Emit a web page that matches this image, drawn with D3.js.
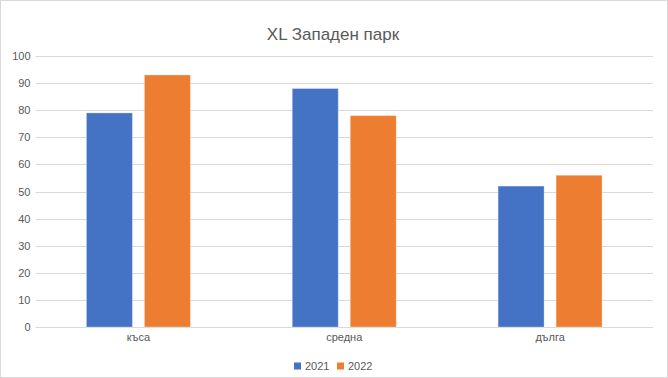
<!DOCTYPE html>
<html>
<head>
<meta charset="utf-8">
<script src="https://cdn.jsdelivr.net/npm/d3@7/dist/d3.min.js"></script>
<style>
    body { margin: 0; background: #fff; }
    svg text { font-family: "Liberation Sans", "DejaVu Sans", sans-serif; fill: #595959; }
</style>
</head>
<body>
<div id="chart"></div>
<script>
var categories = ["къса", "средна", "дълга"];
var seriesNames = ["2021", "2022"];
var values2021 = [79, 88, 52];
var values2022 = [93, 78, 56];
var yTicks = [0, 10, 20, 30, 40, 50, 60, 70, 80, 90, 100];
var colors = ["#4472C4", "#ED7D31"];

var width = 668
    , height = 378
    , plot = {left: 35.5, right: 653, top: 56, bottom: 327}
    , groupWidth = 104
    ;

var svg = d3.select("#chart")
    .append("svg")
    .attr("width", width)
    .attr("height", height);

svg.append("rect")
    .attr("x", 0.5).attr("y", 0.5)
    .attr("width", width - 1).attr("height", height - 1)
    .attr("fill", "#fff")
    .attr("stroke", "#d9d9d9");

svg.append("text")
    .attr("x", 333)
    .attr("y", 40)
    .attr("text-anchor", "middle")
    .style("font-size", "17px")
    .text("XL Западен парк");

var x0 = d3.scaleBand()
    .domain(categories)
    .range([plot.left, plot.right]);

var x1 = d3.scaleBand()
    .domain(seriesNames)
    .range([0, groupWidth])
    .paddingInner(12 / 58);

var y = d3.scaleLinear()
    .domain([0, 100])
    .range([plot.bottom, plot.top]);

// grid lines
svg.append("g")
    .selectAll("line")
    .data(yTicks)
    .enter().append("line")
    .attr("x1", plot.left).attr("x2", plot.right)
    .attr("y1", function(d) { return Math.round(y(d)) + 0.5; })
    .attr("y2", function(d) { return Math.round(y(d)) + 0.5; })
    .attr("stroke", "#d9d9d9")
    .attr("stroke-width", 1);

var yAxis = d3.axisLeft(y)
    .tickValues(yTicks)
    .tickSize(0)
    .tickPadding(5);

var gY = svg.append("g")
    .attr("transform", "translate(" + plot.left + ",0)")
    .call(yAxis);
gY.select(".domain").remove();
gY.selectAll("text")
    .style("font-size", "11px")
    .style("font-family", "Liberation Sans, sans-serif")
    .attr("fill", "#595959");

var xAxis = d3.axisBottom(x0)
    .tickSize(0)
    .tickPadding(6);

var gX = svg.append("g")
    .attr("transform", "translate(0," + plot.bottom + ")")
    .call(xAxis);
gX.select(".domain").remove();
gX.selectAll("text")
    .style("font-size", "11px")
    .style("font-family", "Liberation Sans, sans-serif")
    .attr("fill", "#595959");

var rows = categories.map(function(c, i) {
    return {cat: c, vals: [
        {name: seriesNames[0], value: values2021[i], color: colors[0]},
        {name: seriesNames[1], value: values2022[i], color: colors[1]}
    ]};
});

var offset = (x0.bandwidth() - groupWidth) / 2;

svg.append("g")
    .selectAll("g")
    .data(rows)
    .enter().append("g")
    .attr("transform", function(d) { return "translate(" + (x0(d.cat) + offset) + ",0)"; })
    .selectAll("rect")
    .data(function(d) { return d.vals; })
    .enter().append("rect")
    .attr("x", function(d) { return x1(d.name); })
    .attr("y", function(d) { return y(d.value); })
    .attr("width", x1.bandwidth())
    .attr("height", function(d) { return y(0) - y(d.value); })
    .attr("fill", function(d) { return d.color; })
    .attr("stroke", "rgba(255,255,255,0.3)")
    .attr("stroke-width", 1);

// legend
var legend = svg.append("g")
    .attr("transform", "translate(294,366)");

var item = legend.selectAll("g")
    .data(seriesNames)
    .enter().append("g")
    .attr("transform", function(d, i) { return "translate(" + (i * 43) + ",0)"; });

item.append("rect")
    .attr("x", 0).attr("y", -3.5)
    .attr("width", 7).attr("height", 7)
    .attr("fill", function(d, i) { return colors[i]; });

item.append("text")
    .attr("x", 11)
    .attr("y", 4)
    .style("font-size", "11px")
    .text(function(d) { return d; });
</script>
</body>
</html>
